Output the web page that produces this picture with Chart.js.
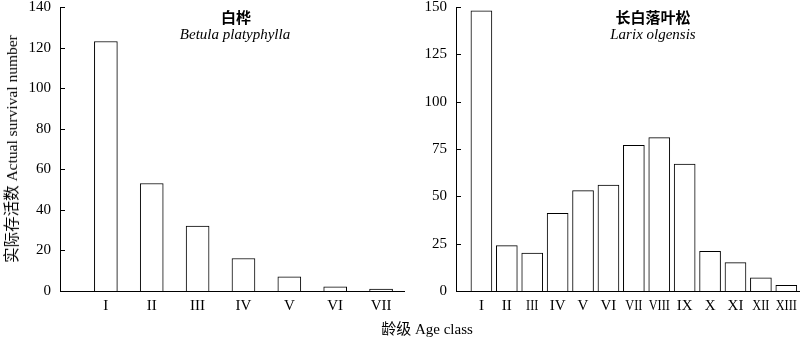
<!DOCTYPE html>
<html>
<head>
<meta charset="utf-8">
<script src="https://cdn.jsdelivr.net/npm/chart.js@4"></script>
<style>
  html, body { margin: 0; padding: 0; background: #fff; }
  #wrap { position: relative; width: 800px; height: 337px; overflow: hidden; }
  canvas { position: absolute; top: 0; }
  .txt { position: absolute; white-space: nowrap; transform: translate(-50%, -50%);
         font-family: 'Liberation Serif', 'Noto Sans CJK SC', serif; font-size: 15px; color: #000; }
  .cn { font-family: 'Noto Sans CJK SC', sans-serif; font-weight: bold; }
  .it { font-style: italic; }
</style>
</head>
<body>
<div id="wrap">
  <canvas id="birch" width="405" height="337" style="left:0"></canvas>
  <canvas id="larch" width="400" height="337" style="left:400px"></canvas>
  <div class="txt cn" style="left:236px; top:16px">白桦</div>
  <div class="txt it" style="left:235px; top:34px">Betula platyphylla</div>
  <div class="txt cn" style="left:653px; top:16px">长白落叶松</div>
  <div class="txt it" style="left:653px; top:34px">Larix olgensis</div>
  <div class="txt" style="left:10px; top:149px; font-size:15.5px; transform: translate(-50%, -50%) rotate(-90deg)">实际存活数 Actual survival number</div>
  <div class="txt" style="left:427px; top:327px">龄级 Age class</div>
</div>
<script>
const birchClasses = ['I', 'II', 'III', 'IV', 'V', 'VI', 'VII'];
const birchCounts = [123, 53, 32, 16, 7, 2, 1];
const birchTicks = [0, 20, 40, 60, 80, 100, 120, 140];

const larchClasses = ['I', 'II', 'III', 'IV', 'V', 'VI', 'VII', 'VIII', 'IX', 'X', 'XI', 'XII', 'XIII'];
const larchCounts = [148, 24, 20, 41, 53, 56, 77, 81, 67, 21, 15, 7, 3];
const larchTicks = [0, 25, 50, 75, 100, 125, 150];

Chart.defaults.font.family = "'Liberation Serif', 'Noto Sans CJK SC', serif";
Chart.defaults.font.size = 15;
Chart.defaults.color = '#000';

// short tick marks on the inner side of the y axis
const innerTicks = {
  id: 'innerTicks',
  afterDraw(chart) {
    const y = chart.scales.y;
    const ctx = chart.ctx;
    ctx.save();
    ctx.strokeStyle = '#000';
    ctx.lineWidth = 1;
    ctx.beginPath();
    y.ticks.forEach(t => {
      const py = Math.round(y.getPixelForValue(t.value)) + 0.5;
      ctx.moveTo(y.right, py);
      ctx.lineTo(y.right + 5, py);
    });
    ctx.stroke();
    ctx.restore();
  }
};

// age-class numerals under the bars; multi-letter ones can be squeezed sideways
const classLabels = {
  id: 'classLabels',
  afterDraw(chart, args, opts) {
    const x = chart.scales.x;
    const ctx = chart.ctx;
    ctx.save();
    ctx.font = "15px 'Liberation Serif', serif";
    ctx.fillStyle = '#000';
    ctx.textAlign = 'center';
    ctx.textBaseline = 'middle';
    x.ticks.forEach(t => {
      const label = opts.labels[t.value - 1];
      const k = label.length >= 3 ? opts.squeeze : 1;
      ctx.save();
      ctx.translate(x.getPixelForValue(t.value), x.top + 15);
      ctx.scale(k, 1);
      ctx.fillText(label, 0, 0);
      ctx.restore();
    });
    ctx.restore();
  }
};

function makeChart(id, classes, counts, yTicks, axisWidth, barWidth, squeeze) {
  const yMax = yTicks[yTicks.length - 1];
  return new Chart(document.getElementById(id), {
    type: 'bar',
    data: {
      datasets: [{
        data: counts.map((v, i) => ({ x: i + 1, y: v })),
        backgroundColor: '#fff',
        borderColor: '#000',
        borderWidth: 1,
        barThickness: barWidth
      }]
    },
    options: {
      responsive: false,
      animation: false,
      devicePixelRatio: 1,
      layout: { padding: { top: 7, right: 1, bottom: 0, left: 0 } },
      plugins: {
        legend: { display: false },
        tooltip: { enabled: false },
        classLabels: { labels: classes, squeeze: squeeze }
      },
      scales: {
        x: {
          type: 'linear',
          offset: false,
          min: 0,
          max: classes.length + 0.5,
          grid: { display: false, drawTicks: false, offset: false },
          border: { display: true, color: '#000', width: 1 },
          afterBuildTicks: s => { s.ticks = classes.map((_, i) => ({ value: i + 1 })); },
          ticks: { display: false },
          afterFit: s => { s.height = 46; s.paddingLeft = 0; s.paddingRight = 0; }
        },
        y: {
          min: 0,
          max: yMax,
          grid: { display: false, drawTicks: false },
          border: { display: true, color: '#000', width: 1 },
          afterBuildTicks: s => { s.ticks = yTicks.map(v => ({ value: v })); },
          ticks: { padding: 9 },
          afterFit: s => { s.width = axisWidth; s.paddingTop = 0; s.paddingBottom = 0; }
        }
      }
    },
    plugins: [innerTicks, classLabels]
  });
}

makeChart('birch', birchClasses, birchCounts, birchTicks, 60, 23, 1);
makeChart('larch', larchClasses, larchCounts, larchTicks, 56, 21, 0.82);
</script>
</body>
</html>
